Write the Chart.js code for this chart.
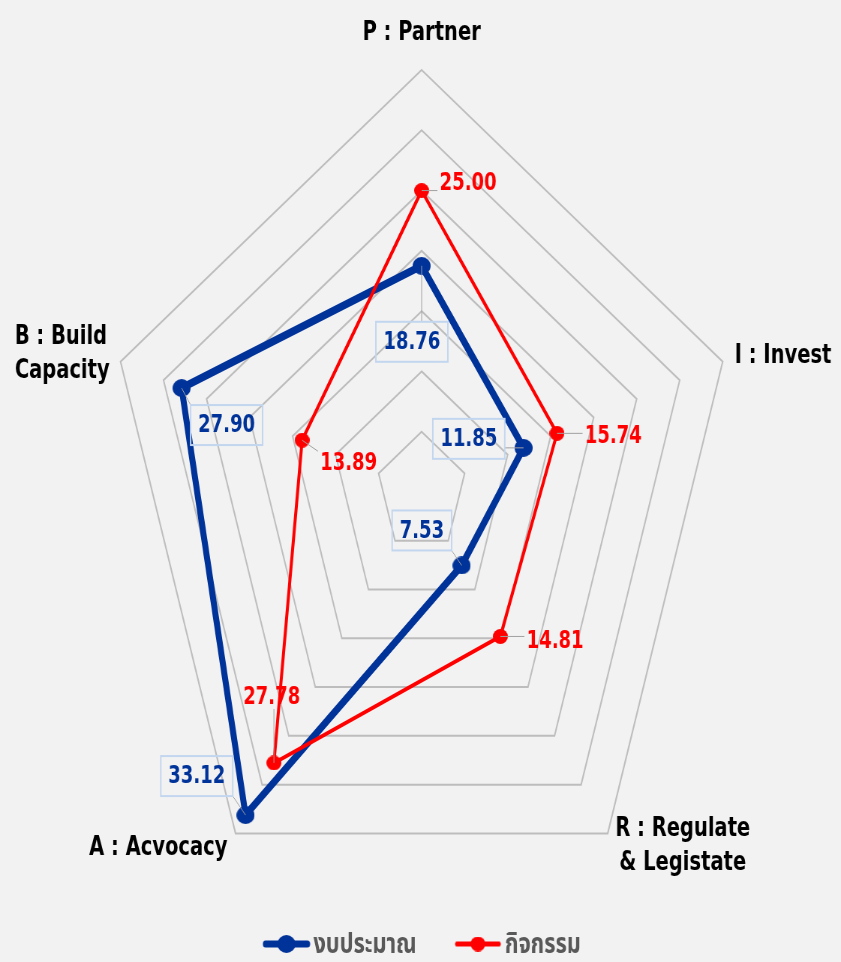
<!DOCTYPE html>
<html>
<head>
<meta charset="utf-8">
<script src="https://cdn.jsdelivr.net/npm/chart.js@4/dist/chart.umd.min.js"></script>
<style>
  html, body { margin: 0; padding: 0; background: #F2F2F2; overflow: hidden; }
  #wrap { width: 1121px; height: 962px; transform: scaleX(0.7502); transform-origin: 0 0; }
  canvas { display: block; }
</style>
</head>
<body>
<div id="wrap"><canvas id="radar" width="1121" height="962" style="width:1121px;height:962px"></canvas></div>
<script>
// data
const axisLabels = ['P : Partner', 'I : Invest', ['R : Regulate', '& Legistate'], 'A : Acvocacy', ['B : Build', 'Capacity']];
const seriesNames = ['งบประมาณ', 'กิจกรรม'];
const budgetValues = [18.76, 11.85, 7.53, 33.12, 27.90];
const activityValues = [25.00, 15.74, 14.81, 27.78, 13.89];
const scaleMax = 35;
const scaleStep = 5;

// the original picture is squeezed horizontally, so the whole canvas is drawn wide and scaled down
const SX = 841 / 1121;
const BLUE = '#003399';
const RED = '#FF0000';
const FONT = "'DejaVu Sans', Tahoma, 'Noto Sans Thai', sans-serif";

// label placement (px, relative to the point) - blue first, then red
const labelOffsets = [
    [{dx: -13, dy: 76}, {dx: -73, dy: -9}, {dx: -53, dy: -35}, {dx: -65, dy: -39}, {dx: 60, dy: 37}],
    [{dx: 62, dy: -8}, {dx: 75, dy: 2}, {dx: 73, dy: 4}, {dx: -3, dy: -66}, {dx: 62, dy: 23}]
];
// axis title placement relative to the outer ring vertex
const axisLabelPos = [
    {dx: 0, dy: -37, align: 'center'},
    {dx: 16, dy: -5, align: 'left'},
    {dx: 100, dy: 13, align: 'center'},
    {dx: -103, dy: 15, align: 'center'},
    {dx: -141, dy: -7, align: 'left'}
];

function makeMarker(color, d) {
    const c = document.createElement('canvas');
    c.width = Math.round(d / SX);
    c.height = d;
    const g = c.getContext('2d');
    g.fillStyle = color;
    g.beginPath();
    g.ellipse(c.width / 2, d / 2, c.width / 2, d / 2, 0, 0, Math.PI * 2);
    g.fill();
    return c;
}

function makeLegendIcon(color, lw, d) {
    const c = document.createElement('canvas');
    c.width = Math.round(48 / SX);
    c.height = d;
    const g = c.getContext('2d');
    g.strokeStyle = color;
    g.lineWidth = lw;
    g.lineCap = 'round';
    g.beginPath();
    g.moveTo(4, d / 2);
    g.lineTo(c.width - 4, d / 2);
    g.stroke();
    g.fillStyle = color;
    g.beginPath();
    g.ellipse(c.width / 2, d / 2, d / 2 / SX, d / 2, 0, 0, Math.PI * 2);
    g.fill();
    return c;
}

const blueMarker = makeMarker(BLUE, 18);
const redMarker = makeMarker(RED, 15);
const legendIcons = [makeLegendIcon(BLUE, 7, 18), makeLegendIcon(RED, 5, 15)];

const valueLabels = {
    id: 'valueLabels',
    afterDatasetsDraw(chart) {
        const ctx = chart.ctx;
        ctx.save();
        ctx.font = 'bold 24px ' + FONT;
        ctx.textAlign = 'center';
        ctx.textBaseline = 'middle';
        chart.data.datasets.forEach(function(ds, di) {
            const meta = chart.getDatasetMeta(di);
            meta.data.forEach(function(pt, i) {
                const off = labelOffsets[di][i];
                const txt = ds.data[i].toFixed(2);
                const cx = pt.x + off.dx, cy = pt.y + off.dy;
                const tw = ctx.measureText(txt).width;
                const boxed = ds.boxedLabels;
                const hw = tw / 2 + (boxed ? 10 : 3);
                const hh = boxed ? 20 : 12;
                // leader line to nearest edge of the label
                const nx = Math.max(cx - hw, Math.min(pt.x, cx + hw));
                const ny = Math.max(cy - hh, Math.min(pt.y, cy + hh));
                if (Math.hypot(nx - pt.x, ny - pt.y) > 8) {
                    ctx.strokeStyle = '#A0A0A0';
                    ctx.lineWidth = 1;
                    ctx.beginPath();
                    ctx.moveTo(pt.x, pt.y);
                    ctx.lineTo(nx, ny);
                    ctx.stroke();
                }
                if (boxed) {
                    ctx.strokeStyle = '#C3D6EF';
                    ctx.lineWidth = 2;
                    ctx.strokeRect(cx - hw, cy - hh, hw * 2, hh * 2);
                }
                ctx.fillStyle = ds.borderColor;
                ctx.fillText(txt, cx, cy + 1);
            });
        });
        ctx.restore();
    }
};

const axisTitles = {
    id: 'axisTitles',
    afterDraw(chart) {
        const scale = chart.scales.r;
        const ctx = chart.ctx;
        ctx.save();
        ctx.font = 'bold 26px ' + FONT;
        ctx.fillStyle = '#000000';
        ctx.textBaseline = 'middle';
        axisLabels.forEach(function(lbl, i) {
            const p = scale.getPointPosition(i, scale.drawingArea);
            const pos = axisLabelPos[i];
            const lines = Array.isArray(lbl) ? lbl : [lbl];
            const lh = 34;
            const y0 = p.y + pos.dy - (lines.length - 1) * lh / 2;
            ctx.textAlign = pos.align;
            lines.forEach(function(line, k) {
                ctx.fillText(line, p.x + pos.dx, y0 + k * lh);
            });
        });
        ctx.restore();
    }
};

const bottomLegend = {
    id: 'bottomLegend',
    afterDraw(chart) {
        const ctx = chart.ctx;
        const scale = chart.scales.r;
        ctx.save();
        ctx.font = 'bold 29px ' + FONT;
        ctx.fillStyle = '#595959';
        ctx.textAlign = 'left';
        ctx.textBaseline = 'middle';
        const gap = 4, spacing = 50;
        const widths = seriesNames.map(function(n, i) {
            return legendIcons[i].width + gap + ctx.measureText(n).width;
        });
        const total = widths[0] + widths[1] + spacing;
        let x = scale.xCenter - total / 2;
        const y = chart.chartArea.bottom + 30;
        seriesNames.forEach(function(n, i) {
            const ic = legendIcons[i];
            ctx.drawImage(ic, x, y - ic.height / 2);
            ctx.fillText(n, x + ic.width + gap, y + 1);
            x += widths[i] + spacing;
        });
        ctx.restore();
    }
};

const ctx = document.getElementById('radar').getContext('2d');
const radarChart = new Chart(ctx, {
    type: 'radar',
    data: {
        labels: axisLabels,
        datasets: [{
            label: seriesNames[0],
            data: budgetValues,
            borderColor: BLUE,
            backgroundColor: BLUE,
            borderWidth: 8,
            pointStyle: blueMarker,
            pointRadius: 9,
            fill: false,
            order: 2,
            boxedLabels: true
        }, {
            label: seriesNames[1],
            data: activityValues,
            borderColor: RED,
            backgroundColor: RED,
            borderWidth: 4,
            pointStyle: redMarker,
            pointRadius: 7,
            fill: false,
            order: 1,
            boxedLabels: false
        }]
    },
    options: {
        responsive: false,
        animation: false,
        devicePixelRatio: 1,
        layout: { padding: { top: 70, bottom: 48, left: 4, right: 0 } },
        elements: { line: { tension: 0 } },
        scales: {
            r: {
                min: 0,
                max: scaleMax,
                ticks: { display: false, stepSize: scaleStep },
                grid: { color: '#BDBDBD', lineWidth: 2 },
                angleLines: { display: false },
                pointLabels: { display: false }
            }
        },
        plugins: {
            legend: { display: false },
            tooltip: { enabled: false }
        }
    },
    plugins: [valueLabels, axisTitles, bottomLegend]
});
</script>
</body>
</html>
